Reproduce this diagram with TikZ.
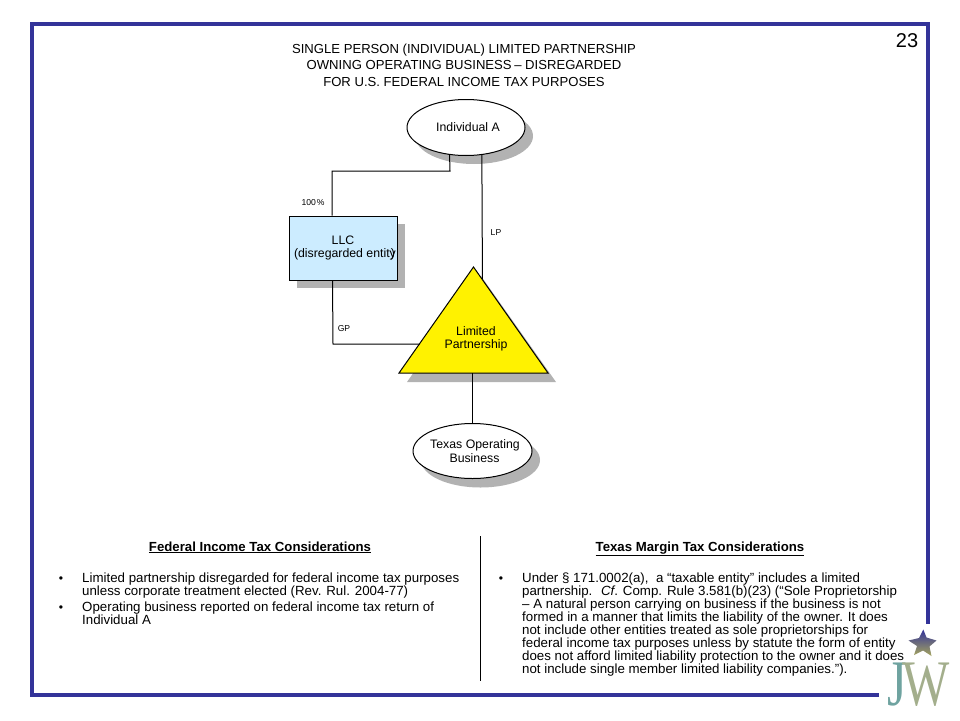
\documentclass[tikz,border=0pt]{standalone}
\usepackage{fontspec}
\setmainfont{Liberation Sans}
\newfontfamily\logofont{Liberation Serif}
\usetikzlibrary{shapes.geometric,calc}
\definecolor{framec}{HTML}{333399}
\definecolor{shadowc}{HTML}{B2B2B2}
\definecolor{llcc}{HTML}{CCECFF}
\tikzset{
  frameline/.style={draw=framec,line width=4pt},
  ownerline/.style={draw=black,line width=1pt},
  oval/.style={ellipse,draw=black,line width=1pt,fill=white,inner sep=-10pt,align=center,font=\fontsize{12.3}{13.2}\selectfont},
  shadowoval/.style={ellipse,fill=shadowc,inner sep=0pt},
  small/.style={inner sep=0pt,font=\fontsize{8.6}{10}\selectfont},
  title/.style={inner sep=0pt,align=center,font=\fontsize{13.1}{16.5}\selectfont},
  head/.style={inner sep=0pt,anchor=base,font=\fontsize{13.2}{15}\selectfont\bfseries},
  body/.style={inner sep=0pt,anchor=north west,align=left,font=\fontsize{13.3}{12.95}\selectfont},
  dot/.style={inner sep=0pt,font=\fontsize{12.2}{13}\selectfont},
}
\begin{document}
\begin{tikzpicture}[x=1pt,y=-1pt]
\useasboundingbox (0,0) rectangle (960,720);
% frame
\coordinate (fa) at (879,695);
\coordinate (fb) at (32,695);
\coordinate (fc) at (32,24);
\coordinate (fd) at (928,24);
\coordinate (fe) at (928,624);
\draw[frameline] (fa) -- (fb) -- (fc) -- (fd) -- (fe);
\node[inner sep=0pt,font=\fontsize{20}{22}\selectfont] (num) at (907,41) {23};
\node[title] (ttl) at (464,65) {SINGLE PERSON (INDIVIDUAL) LIMITED PARTNERSHIP\\OWNING OPERATING BUSINESS\kern-1pt{} -- DISREGARDED\\FOR U.S. FEDERAL INCOME TAX PURPOSES};
% shadows
\node[shadowoval,minimum width=118pt,minimum height=56pt] (indivs) at (474,136) {};
\fill[shadowc] (297,224) rectangle (405,288);
\fill[shadowc] (481,276) -- (556,382) -- (407,382) -- cycle;
\node[shadowoval,minimum width=119pt,minimum height=55pt] (texass) at (480.5,460) {};
% shapes
\node[oval,minimum width=118pt,minimum height=56pt] (indiv) at (466,127.5) {\kern4pt Individual A};
\node[rectangle,draw=black,line width=1pt,fill=llcc,minimum width=108pt,minimum height=64pt,inner sep=0pt,font=\fontsize{12.3}{13.2}\selectfont,align=center] (llc) at (343,248) {LLC\\\kern3pt(disregarded entity\kern-5pt)};
\coordinate (tapex) at (473.5,267);
\coordinate (tleft) at (399,373);
\coordinate (tright) at (548,373);
\draw[ownerline] (indiv.300.7) -- ($(tapex)!0.12!(tright)$) coordinate (lpend);
\draw[ownerline,fill=yellow] (tapex) -- (tright) -- (tleft) -- cycle;
\node[inner sep=0pt,align=center,font=\fontsize{12.3}{13.2}\selectfont] (lptext) at (476,339) {Limited\\Partnership};
\node[oval,minimum width=119pt,minimum height=55pt] (texas) at (472.5,451) {\kern5pt Texas Operating\\\kern4pt Business};
\coordinate (elbow1) at (450,171);
\coordinate (elbow2) at (332,171);
\draw[ownerline] (indiv.239.3) -- (elbow1) -- (elbow2) -- (elbow2 |- llc.north);
\coordinate (gpstart) at ($(llc.south west)+(44,0)$);
\coordinate (gpelbow) at (333,344);
\coordinate (gpend) at ($(tapex)!0.72!(tleft)$);
\draw[ownerline] (gpstart) -- (gpelbow) -- (gpelbow -| gpend);
\coordinate (tbase) at (472.5,373);
\draw[ownerline] (tbase) -- (texas.north);
\node[small] (l100) at (313,202.5) {100\kern1pt\%};
\node[small] (llp) at (496,232.5) {LP};
\node[small] (lgp) at (344,328.5) {GP};
% lower panel
\coordinate (diva) at (480,536);
\coordinate (divb) at (480,681);
\draw[ownerline] (diva) -- (divb);
\node[head] (hl) at (260,551) {\underline{Federal Income Tax Considerations}};
\node[head] (hr) at (700,551) {\underline{Texas Margin Tax Considerations}};
\node[body] (bl1) at (82,573) {Limited partnership disregarded for federal income tax purposes\\unless corporate treatment elected (Rev. Rul. 2004-77)};
\node[body] (bl2) at (82,602) {Operating business reported on federal income tax return of\\Individual A};
\node[body] (br1) at (522,573) {Under § 171.0002(a), \ a “taxable entity” includes a limited\\partnership. \ \textit{Cf}. Comp. Rule 3.581(b)(23) (“Sole Proprietorship\\– A natural person carrying on business if the business is not\\formed in a manner that limits the liability of the owner. It does\\not include other entities treated as sole proprietorships for\\federal income tax purposes unless by statute the form of entity\\does not afford limited liability protection to the owner and it does\\not include single member limited liability companies.”).};
\node[dot] (d1) at (61,580) {•};
\node[dot] (d2) at (61,609) {•};
\node[dot] (d3) at (501,580) {•};
% logo
\shade[left color=framec,right color=olive!40!gray!70!white,shading angle=0]
  (923.3,629.5) -- (926.5,637.5) -- (936.5,640.5) -- (929.5,646.5) -- (931.5,656) -- (923,650.5) -- (914,655) -- (917,646) -- (908.5,640.5) -- (919,638) -- cycle;
\node[inner sep=0pt,anchor=base,font=\logofont\fontsize{65}{65}\selectfont] (logo) at (919,705) {\scalebox{0.77}[1]{\textcolor[HTML]{6FA3A0}{J}\kern-6pt\textcolor[HTML]{A3AE8C}{W}}};
\end{tikzpicture}
\end{document}
